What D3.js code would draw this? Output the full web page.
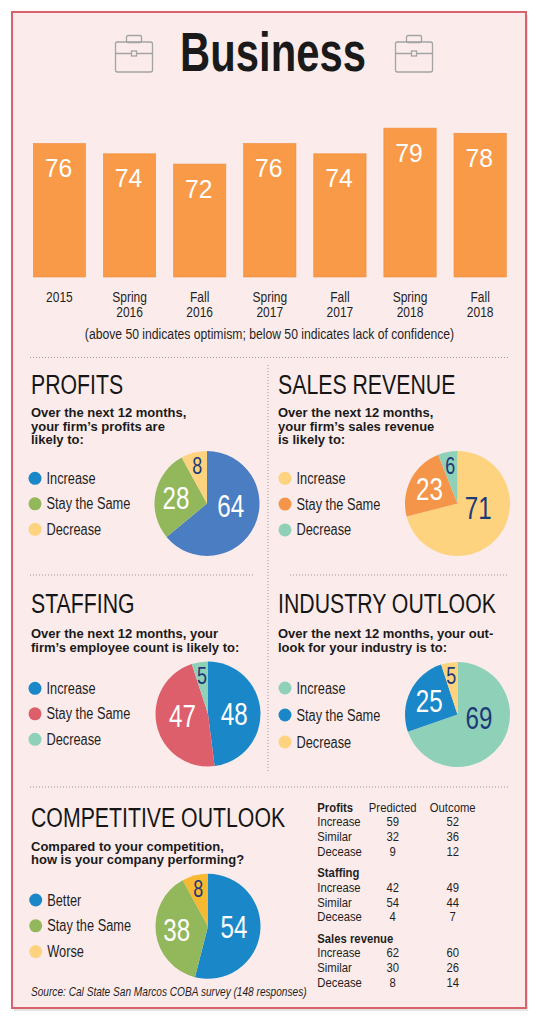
<!DOCTYPE html>
<html>
<head>
<meta charset="utf-8">
<script src="https://cdn.jsdelivr.net/npm/d3@7"></script>
<style>
  html, body { margin: 0; padding: 0; background: #fff; }
  svg { display: block; }
</style>
</head>
<body>
<div id="chart"></div>
<script>
// ── Data ───────────────────────────────────────────────────────────────

const periods = ["2015", "Spring 2016", "Fall 2016", "Spring 2017", "Fall 2017", "Spring 2018", "Fall 2018"];
const indexValues = [76, 74, 72, 76, 74, 79, 78];

const outlookCategories = ["Increase", "Stay the Same", "Decrease"];
const competitionCategories = ["Better", "Stay the Same", "Worse"];

const profitsShares = [64, 28, 8];
const salesShares = [71, 23, 6];
const staffingShares = [48, 47, 5];
const industryShares = [69, 25, 5];
const competitiveShares = [54, 38, 8];

const tableGroups = ["Profits", "Staffing", "Sales revenue"];
const tableRows = ["Increase", "Similar", "Decease"];
const predictedValues = [[59, 32, 9], [42, 54, 4], [62, 30, 8]];
const outcomeValues = [[52, 36, 12], [49, 44, 7], [60, 26, 14]];

// ── Style ──────────────────────────────────────────────────────────────

// no condensed face installed: Liberation Sans squeezed horizontally instead
const SANS = "'Liberation Sans', Arial, sans-serif";
const INK = "#1f1f1f";
const C = {
  bar: "#f89a48", barEdge: "#f08b3b",
  steel: "#4b7dc2", blue: "#1a87c8", green: "#93b75b", yellow: "#fdd37f",
  orange: "#f4954a", teal: "#8fd0b9", red: "#dd5f6b", gold: "#f7b832",
  navy: "#1d3a78", dots: "#9a9a9a"
};
const squeeze = (x, y, sx) => `translate(${x},${y}) scale(${sx},1)`;

const W = 540, H = 1020;
const svg = d3.select("#chart").append("svg").attr("width", W).attr("height", H)
  .attr("font-family", SANS);

// ── Frame ──────────────────────────────────────────────────────────────

svg.append("rect").attr("x", 14).attr("y", 15).attr("width", 514).attr("height", 996)
  .attr("fill", "#c9c9c9").attr("opacity", 0.5);
svg.append("rect").attr("x", 12).attr("y", 12).attr("width", 514).attr("height", 996)
  .attr("fill", "#fbeceb").attr("stroke", "#d9636c").attr("stroke-width", 2);

// ── Title + briefcases ─────────────────────────────────────────────────

svg.append("text").attr("transform", squeeze(273, 70.5, 0.76)).attr("text-anchor", "middle")
  .attr("font-weight", 700).attr("font-size", 55).attr("fill", "#1a1a1a").text("Business");

function briefcase(x, y) {
  const g = svg.append("g").attr("transform", `translate(${x},${y})`)
    .attr("fill", "none").attr("stroke", "#a3a3a3").attr("stroke-width", 1.3);
  g.append("rect").attr("x", 11.5).attr("y", 0.5).attr("width", 15).attr("height", 7).attr("rx", 1.5);
  g.append("rect").attr("x", 0.5).attr("y", 7).attr("width", 37).attr("height", 30).attr("rx", 2);
  g.append("path").attr("d", "M0.5,18.5H37.5");
  g.append("rect").attr("x", 16.5).attr("y", 16).attr("width", 5).attr("height", 5).attr("fill", "#fbeceb");
}
briefcase(115, 35);
briefcase(395, 35);

// ── Index bars ─────────────────────────────────────────────────────────

const x = d3.scaleBand().domain(periods).range([33.3, 506.3]).paddingInner(0.254).paddingOuter(0);
const y = d3.scaleLinear().domain([50, 80]).range([277, 123]);
const mid = d => x(d) + x.bandwidth() / 2;

const bars = svg.append("g");
bars.selectAll("rect").data(periods).join("rect")
  .attr("x", d => x(d)).attr("width", x.bandwidth())
  .attr("y", (d, i) => y(indexValues[i]))
  .attr("height", (d, i) => y(50) - y(indexValues[i]))
  .attr("fill", C.bar).attr("stroke", C.barEdge).attr("stroke-width", 0.6);

bars.selectAll("text.val").data(periods).join("text").attr("class", "val")
  .attr("transform", (d, i) => squeeze(mid(d) - 1, y(indexValues[i]) + 33.5, 0.97))
  .attr("text-anchor", "middle").attr("font-size", 25.5)
  .attr("fill", "#fff").text((d, i) => indexValues[i]);

bars.selectAll("text.per").data(periods).join("text").attr("class", "per")
  .attr("transform", d => squeeze(mid(d), 302, 0.8))
  .attr("text-anchor", "middle").attr("font-size", 15).attr("fill", INK)
  .selectAll("tspan").data(d => d.split(" ")).join("tspan")
  .attr("x", 0).attr("y", (d, i) => i * 14.6).text(d => d);

svg.append("text").attr("transform", squeeze(269.5, 338.5, 0.87)).attr("text-anchor", "middle")
  .attr("font-size", 14).attr("fill", INK)
  .text("(above 50 indicates optimism; below 50 indicates lack of confidence)");

// ── Dotted separators ──────────────────────────────────────────────────

const seps = [
  [30, 357.5, 510, 357.5], [30, 575, 253, 575], [290, 575, 508, 575],
  [30, 787, 510, 787], [268, 365, 268, 772]
];
svg.append("g").selectAll("line").data(seps).join("line")
  .attr("x1", d => d[0]).attr("y1", d => d[1]).attr("x2", d => d[2]).attr("y2", d => d[3])
  .attr("stroke", C.dots).attr("stroke-width", 1).attr("stroke-dasharray", "1 2");

// ── Pie panels ─────────────────────────────────────────────────────────

const panels = [
  { title: "PROFITS", x: 31, base: 394, subY: 417.3,
    sub: ["Over the next 12 months,", "your firm\u2019s profits are", "likely to:"],
    values: profitsShares, cats: outlookCategories,
    slices: [C.steel, C.green, C.yellow], dots: [C.blue, C.green, C.yellow],
    legendY: 478.3, gap: 25.5, dotX: 35, cx: 207, cy: 503.5 },
  { title: "SALES REVENUE", x: 278, base: 394, subY: 417.3,
    sub: ["Over the next 12 months,", "your firm\u2019s sales revenue", "is likely to:"],
    values: salesShares, cats: outlookCategories,
    slices: [C.yellow, C.orange, C.teal], dots: [C.yellow, C.orange, C.teal],
    legendY: 478.3, gap: 25.8, dotX: 285, cx: 457.5, cy: 503.5 },
  { title: "STAFFING", x: 31, base: 613, subY: 638.3,
    sub: ["Over the next 12 months, your", "firm\u2019s employee count is likely to:"],
    values: staffingShares, cats: outlookCategories,
    slices: [C.blue, C.red, C.teal], dots: [C.blue, C.red, C.teal],
    legendY: 688.3, gap: 25.5, dotX: 35, cx: 208, cy: 714 },
  { title: "INDUSTRY OUTLOOK", x: 278, base: 613, subY: 638.3,
    sub: ["Over the next 12 months, your out-", "look for your industry is to:"],
    values: industryShares, cats: outlookCategories,
    slices: [C.teal, C.blue, C.yellow], dots: [C.teal, C.blue, C.yellow],
    legendY: 688, gap: 27, dotX: 285, cx: 457.5, cy: 714.5 },
  { title: "COMPETITIVE OUTLOOK", x: 31, base: 827, subY: 850.7,
    sub: ["Compared to your competition,", "how is your company performing?"],
    values: competitiveShares, cats: competitionCategories,
    slices: [C.blue, C.green, C.gold], dots: [C.blue, C.green, C.yellow],
    legendY: 900, gap: 25.8, dotX: 35.7, cx: 208, cy: 926.3 }
];

const R = 52.5;
const pie = d3.pie().sort(null).value(d => d);
const arc = d3.arc().innerRadius(0).outerRadius(R);

panels.forEach(p => {
  const g = svg.append("g");

  g.append("text").attr("transform", squeeze(p.x, p.base, 0.76))
    .attr("font-size", 28).attr("fill", "#161616").text(p.title);

  g.append("text").attr("font-weight", 700).attr("font-size", 13).attr("fill", "#1a1a1a")
    .selectAll("tspan").data(p.sub).join("tspan")
    .attr("x", p.x).attr("y", (d, i) => p.subY + i * 13.3).text(d => d);

  // legend
  const lg = g.append("g");
  lg.selectAll("circle").data(p.cats).join("circle")
    .attr("cx", p.dotX).attr("cy", (d, i) => p.legendY + i * p.gap).attr("r", 6.5)
    .attr("fill", (d, i) => p.dots[i]);
  lg.selectAll("text").data(p.cats).join("text")
    .attr("transform", (d, i) => squeeze(p.dotX + 11.5, p.legendY + i * p.gap + 5.5, 0.82))
    .attr("font-size", 15.6).attr("fill", INK).text(d => d);

  // pie
  const pg = g.append("g").attr("transform", `translate(${p.cx},${p.cy})`);
  const arcs = pie(p.values);
  pg.selectAll("path").data(arcs).join("path")
    .attr("d", arc).attr("fill", (d, i) => p.slices[i]);

  pg.selectAll("text").data(arcs).join("text")
    .attr("transform", d => {
      const k = d.value < 10 ? 0.74 : d.value < 40 ? 0.6 : 0.5;
      const [lx, ly] = d3.arc().innerRadius(0).outerRadius(2 * R * k).centroid(d);
      const fs = d.value < 10 ? 23 : 31;
      return squeeze(lx, (d.value >= 40 ? ly * 0.25 : ly) + fs * 0.36, 0.78);
    })
    .attr("text-anchor", "middle")
    .attr("font-size", d => d.value < 10 ? 23 : 31)
    .attr("fill", (d, i) => d3.lab(p.slices[i]).l > 75 ? C.navy : "#fff")
    .text(d => d.value);
});

// ── Predicted vs outcome table ─────────────────────────────────────────

const col = d3.scaleOrdinal().domain(["label", "Predicted", "Outcome"]).range([317.3, 392.7, 452.7]);
const rowY = (g, i) => 811.7 + g * 65.5 + i * 14.7;
const TS = 0.92;

const tbl = svg.append("g").attr("font-size", 12.3).attr("fill", INK);
tbl.selectAll("text.grp").data(tableGroups).join("text").attr("class", "grp")
  .attr("transform", (d, g) => squeeze(col("label"), rowY(g, 0), TS))
  .attr("font-weight", 700).text(d => d);
tbl.selectAll("text.hd").data(["Predicted", "Outcome"]).join("text").attr("class", "hd")
  .attr("transform", d => squeeze(col(d), rowY(0, 0), TS))
  .attr("text-anchor", "middle").text(d => d);

tableGroups.forEach((grp, g) => {
  const rows = tableRows.map((r, i) => ({ r, i, pred: predictedValues[g][i], out: outcomeValues[g][i] }));
  const rg = tbl.append("g");
  rg.selectAll("text.lab").data(rows).join("text").attr("class", "lab")
    .attr("transform", d => squeeze(col("label"), rowY(g, d.i + 1), TS)).text(d => d.r);
  rg.selectAll("text.pr").data(rows).join("text").attr("class", "pr")
    .attr("transform", d => squeeze(col("Predicted"), rowY(g, d.i + 1), TS))
    .attr("text-anchor", "middle").text(d => d.pred);
  rg.selectAll("text.oc").data(rows).join("text").attr("class", "oc")
    .attr("transform", d => squeeze(col("Outcome"), rowY(g, d.i + 1), TS))
    .attr("text-anchor", "middle").text(d => d.out);
});

// ── Source ─────────────────────────────────────────────────────────────

svg.append("text").attr("transform", squeeze(31, 996, 0.81))
  .attr("font-style", "italic").attr("font-size", 12.5).attr("fill", INK)
  .text("Source: Cal State San Marcos COBA survey (148 responses)");
</script>
</body>
</html>
